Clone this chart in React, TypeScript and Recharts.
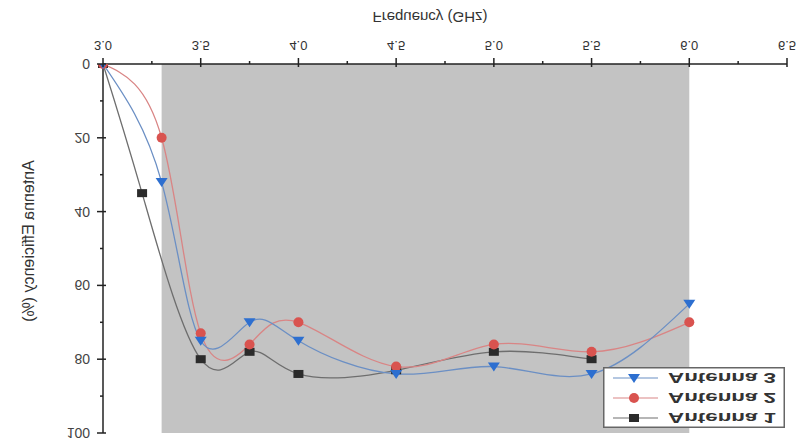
import React from 'react'
import { LineChart, Line, XAxis, YAxis, ReferenceArea, Label } from 'recharts'

// the reference is printed upside down, so the whole chart is flipped at the end
const freqAntenna1 = [3.0, 3.2, 3.5, 3.75, 4.0, 4.5, 5.0, 5.5]
const effAntenna1 = [0, 35, 80, 78, 84, 83, 78, 80]

const freqAntenna2 = [3.0, 3.3, 3.5, 3.75, 4.0, 4.5, 5.0, 5.5, 6.0]
const effAntenna2 = [0, 20, 73, 76, 70, 82, 76, 78, 70]

const freqAntenna3 = [3.0, 3.3, 3.5, 3.75, 4.0, 4.5, 5.0, 5.5, 6.0]
const effAntenna3 = [0, 32, 75, 70, 75, 84, 82, 84, 65]

const xTicks = [3, 3.25, 3.5, 3.75, 4, 4.25, 4.5, 4.75, 5, 5.25, 5.5, 5.75, 6, 6.25, 6.5]
const yTicks = [0, 10, 20, 30, 40, 50, 60, 70, 80, 90, 100]
const band = [3.3, 6.0]

const FONT = '"Liberation Sans", Arial, sans-serif'

const zip = (xs: number[], ys: number[]) => xs.map((f, i) => ({ freq: f, eff: ys[i] }))

const SERIES = [
  { name: 'Antenna 1', data: zip(freqAntenna1, effAntenna1), line: '#6e6e6e', fill: '#2b2b2b', shape: 'square' },
  { name: 'Antenna 2', data: zip(freqAntenna2, effAntenna2), line: '#d98585', fill: '#d9534f', shape: 'circle' },
  { name: 'Antenna 3', data: zip(freqAntenna3, effAntenna3), line: '#6b8fc4', fill: '#2d6fd0', shape: 'triangle' },
]

function Marker({ shape, cx, cy, fill }: any) {
  if (cx == null || cy == null) return null
  if (shape === 'square') return <rect x={cx - 5} y={cy - 4} width={10} height={8} fill={fill} />
  if (shape === 'circle') return <circle cx={cx} cy={cy} r={5} fill={fill} />
  // drawn pointing up: it points down once flipped
  return <polygon points={`${cx},${cy - 5} ${cx - 6},${cy + 4} ${cx + 6},${cy + 4}`} fill={fill} />
}

const XTick = ({ x, y, payload }: any) => {
  const v = payload.value
  const major = Math.abs(v * 2 - Math.round(v * 2)) < 1e-6
  return (
    <g>
      <line x1={x} x2={x} y1={major ? y - 3 : y} y2={y + (major ? 6 : 3)} stroke="#222" strokeWidth={1.5} />
      {major && (
        <text x={x} y={y + 19} textAnchor="middle" dominantBaseline="central" fontSize={13} fill="#333" fontFamily={FONT}>
          {v.toFixed(1)}
        </text>
      )}
    </g>
  )
}

const YTick = ({ x, y, payload }: any) => {
  const v = payload.value
  const major = v % 20 === 0
  return (
    <g>
      <line x1={x - (major ? 6 : 3)} x2={major ? x + 3 : x} y1={y} y2={y} stroke="#222" strokeWidth={1.5} />
      {major && (
        <text x={x - 13} y={y} textAnchor="end" dominantBaseline="central" fontSize={14} fill="#444" fontFamily={FONT}>
          {v}
        </text>
      )}
    </g>
  )
}

const LegendBox = () => (
  <svg width={182} height={61} style={{ position: 'absolute', left: 603, top: 18 }}>
    <rect x={0.75} y={0.75} width={180.5} height={59.5} fill="#fff" stroke="#666" strokeWidth={1.5} />
    {SERIES.map((s, i) => {
      const cy = 10 + i * 20
      return (
        <g key={s.name}>
          <line x1={10} x2={55} y1={cy} y2={cy} stroke={s.line} strokeWidth={1.2} />
          <Marker shape={s.shape} cx={31} cy={cy} fill={s.fill} />
          <text x={65} y={cy} dominantBaseline="central" fontSize={15} fontWeight="bold" fill="#333"
            fontFamily={FONT} textLength={108} lengthAdjust="spacingAndGlyphs">
            {s.name}
          </text>
        </g>
      )
    })}
  </svg>
)

const YTitle = () => (
  <text x={28} y={205} transform="rotate(-90, 28, 205)" textAnchor="middle" dominantBaseline="central"
    fontSize={16} fill="#333" fontFamily={FONT}>
    Antenna Efficiency (%)
  </text>
)

export default function App() {
  return (
    <div style={{ position: 'absolute', left: 0, top: 0, width: 803, height: 446, background: '#fff', transform: 'scaleY(-1)' }}>
      <LineChart width={803} height={446} margin={{ top: 13, right: 16, bottom: 0, left: 0 }}>
        <XAxis dataKey="freq" type="number" domain={[3, 6.5]} ticks={xTicks} interval={0}
          height={64} tickSize={0} tickMargin={0} tickLine={false} tick={<XTick />}
          axisLine={{ stroke: '#222', strokeWidth: 1.5 }}>
          <Label value="Frequency (GHz)" position="insideBottom" offset={12} dx={-15}
            style={{ fontSize: 15, fill: '#333', fontFamily: FONT }} />
        </XAxis>
        <XAxis xAxisId="top" orientation="top" type="number" domain={[3, 6.5]} height={0}
          tick={false} tickLine={false} axisLine={{ stroke: '#222', strokeWidth: 1.5 }} />
        <YAxis type="number" domain={[0, 100]} ticks={yTicks} interval={0} width={103} allowDataOverflow
          tickSize={0} tickMargin={0} tickLine={false} tick={<YTick />}
          axisLine={{ stroke: '#222', strokeWidth: 1.5 }}>
          <Label content={<YTitle />} />
        </YAxis>
        <YAxis yAxisId="right" orientation="right" type="number" domain={[0, 100]} width={0}
          tick={false} tickLine={false} axisLine={{ stroke: '#222', strokeWidth: 1.5 }} />
        <ReferenceArea x1={band[0]} x2={band[1]} y1={0} y2={100} fill="#c3c3c3" fillOpacity={1} stroke="none" />
        {SERIES.map((s) => (
          <Line key={s.name} data={s.data} dataKey="eff" name={s.name} type="natural"
            stroke={s.line} strokeWidth={1.3} isAnimationActive={false}
            dot={(p: any) => <Marker key={`${s.name}-${p.index}`} shape={s.shape} cx={p.cx} cy={p.cy} fill={s.fill} />}
            activeDot={false} />
        ))}
      </LineChart>
      <LegendBox />
    </div>
  )
}
